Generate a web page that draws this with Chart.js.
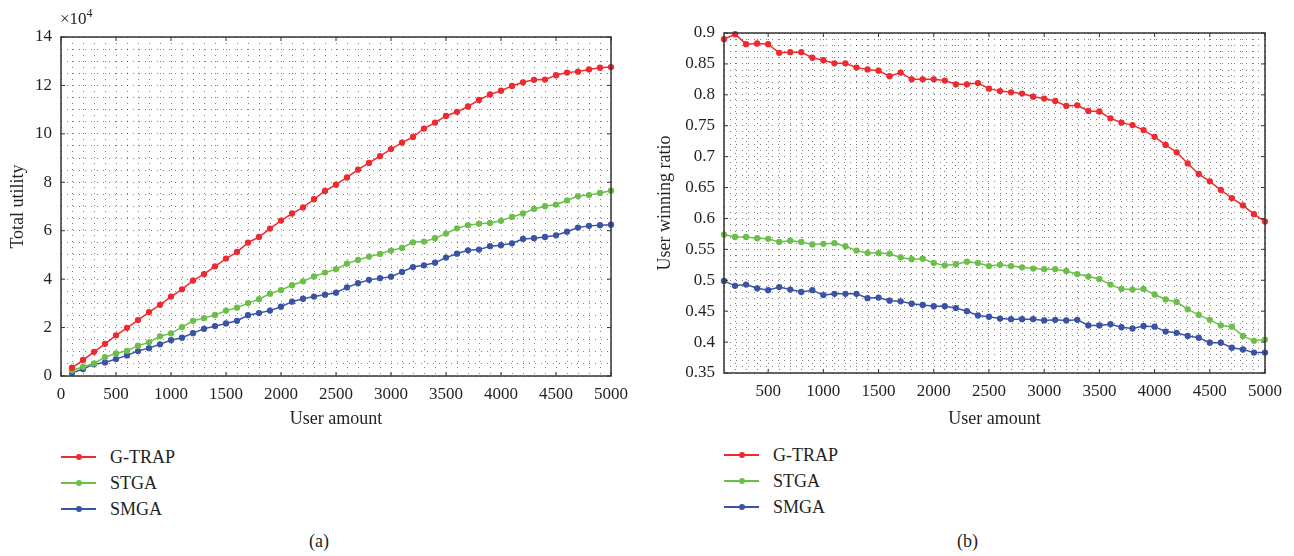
<!DOCTYPE html>
<html lang="en">
  <head>
    <meta charset="UTF-8" />
    <title>Chart</title>
    <style>
      body { margin: 0; background: #fff; width: 1294px; height: 556px; position: relative; overflow: hidden; font-family: "Liberation Serif", serif; color: #231f20; }
      .box { position: absolute; top: 0; width: 647px; height: 440px; }
      .expo { position: absolute; left: 60px; top: 6px; font-size: 17px; }
      .expo sup { font-size: 12px; }
      .legend { position: absolute; font-size: 18px; }
      .legend-item { display: flex; align-items: center; height: 26px; }
      .legend-line { position: relative; width: 35px; height: 2px; margin-right: 14px; }
      .legend-line span { position: absolute; left: 15px; top: -2px; width: 6px; height: 6px; border-radius: 50%; }
      .caption { position: absolute; top: 531px; font-size: 18px; }
    </style>
  </head>
  <body>
    <div class="box" style="left: 0"><canvas id="utility" width="647" height="440"></canvas></div>
    <div class="box" style="left: 647px"><canvas id="ratio" width="647" height="440"></canvas></div>
    <div class="expo">×10<sup>4</sup></div>
    <div class="legend" id="legendA" style="left: 61px; top: 444px"></div>
    <div class="legend" id="legendB" style="left: 724px; top: 442px"></div>
    <div class="caption" style="left: 309px">(a)</div>
    <div class="caption" style="left: 957px">(b)</div>

    <script src="https://cdn.jsdelivr.net/npm/chart.js"></script>
    <script>
      const userAmount = [100, 200, 300, 400, 500, 600, 700, 800, 900, 1000,
        1100, 1200, 1300, 1400, 1500, 1600, 1700, 1800, 1900, 2000,
        2100, 2200, 2300, 2400, 2500, 2600, 2700, 2800, 2900, 3000,
        3100, 3200, 3300, 3400, 3500, 3600, 3700, 3800, 3900, 4000,
        4100, 4200, 4300, 4400, 4500, 4600, 4700, 4800, 4900, 5000];

      // total utility, in units of 10^4
      const utilGTRAP = [0.34, 0.66, 1.0, 1.33, 1.68, 1.99, 2.31, 2.64, 2.94, 3.28,
        3.58, 3.94, 4.21, 4.53, 4.85, 5.12, 5.51, 5.74, 6.09, 6.42,
        6.71, 6.96, 7.30, 7.64, 7.90, 8.20, 8.52, 8.80, 9.08, 9.37,
        9.64, 9.87, 10.22, 10.46, 10.74, 10.91, 11.13, 11.40, 11.63, 11.78,
        11.98, 12.13, 12.23, 12.24, 12.42, 12.53, 12.57, 12.66, 12.73, 12.76];
      const utilSTGA = [0.23, 0.38, 0.52, 0.78, 0.93, 1.04, 1.25, 1.39, 1.64, 1.76,
        2.02, 2.28, 2.39, 2.52, 2.70, 2.82, 3.01, 3.17, 3.40, 3.55,
        3.75, 3.91, 4.11, 4.27, 4.41, 4.64, 4.79, 4.93, 5.04, 5.18,
        5.29, 5.52, 5.55, 5.69, 5.88, 6.10, 6.23, 6.29, 6.32, 6.41,
        6.57, 6.71, 6.90, 7.01, 7.08, 7.25, 7.43, 7.47, 7.56, 7.65];
      const utilSMGA = [0.13, 0.29, 0.49, 0.56, 0.70, 0.85, 1.03, 1.15, 1.31, 1.48,
        1.58, 1.77, 1.95, 2.06, 2.17, 2.28, 2.51, 2.60, 2.70, 2.86,
        3.07, 3.19, 3.28, 3.36, 3.44, 3.66, 3.83, 3.97, 4.04, 4.10,
        4.30, 4.50, 4.57, 4.68, 4.89, 5.05, 5.19, 5.22, 5.36, 5.40,
        5.48, 5.66, 5.69, 5.74, 5.81, 5.96, 6.13, 6.20, 6.23, 6.25];

      const ratioGTRAP = [0.890, 0.898, 0.882, 0.883, 0.882, 0.868, 0.869, 0.869, 0.860, 0.856,
        0.851, 0.851, 0.844, 0.841, 0.839, 0.830, 0.836, 0.825, 0.825, 0.825,
        0.823, 0.817, 0.817, 0.819, 0.810, 0.806, 0.804, 0.802, 0.797, 0.794,
        0.790, 0.782, 0.783, 0.774, 0.773, 0.762, 0.755, 0.751, 0.743, 0.732,
        0.719, 0.707, 0.689, 0.672, 0.660, 0.646, 0.633, 0.621, 0.607, 0.595];
      const ratioSTGA = [0.574, 0.570, 0.570, 0.568, 0.567, 0.562, 0.564, 0.562, 0.558, 0.559,
        0.560, 0.555, 0.548, 0.544, 0.544, 0.543, 0.537, 0.534, 0.535, 0.528,
        0.524, 0.526, 0.530, 0.528, 0.523, 0.525, 0.523, 0.521, 0.519, 0.518,
        0.518, 0.515, 0.510, 0.506, 0.502, 0.493, 0.486, 0.485, 0.486, 0.477,
        0.469, 0.465, 0.453, 0.444, 0.436, 0.427, 0.425, 0.410, 0.402, 0.404];
      const ratioSMGA = [0.499, 0.491, 0.493, 0.487, 0.484, 0.489, 0.485, 0.481, 0.484, 0.476,
        0.478, 0.478, 0.478, 0.471, 0.472, 0.467, 0.466, 0.462, 0.460, 0.458,
        0.458, 0.455, 0.450, 0.443, 0.441, 0.438, 0.437, 0.437, 0.437, 0.435,
        0.436, 0.435, 0.436, 0.427, 0.427, 0.429, 0.424, 0.422, 0.426, 0.425,
        0.417, 0.415, 0.410, 0.407, 0.399, 0.399, 0.391, 0.388, 0.383, 0.383];

      const seriesNames = ["G-TRAP", "STGA", "SMGA"];
      const seriesColors = ["#ee2a30", "#6bbf4a", "#3a53a5"];

      const FONT = "'Liberation Serif', serif";
      const tickFont = { family: FONT, size: 17 };
      const titleFont = { family: FONT, size: 18 };

      // frame around the plot, with small inward ticks at labelled values
      const framePlugin = {
        id: "frame",
        afterDraw(chart) {
          const { ctx, chartArea: a, scales } = chart;
          ctx.save();
          ctx.strokeStyle = "#333";
          ctx.lineWidth = 1.5;
          ctx.strokeRect(a.left, a.top, a.right - a.left, a.bottom - a.top);
          ctx.lineWidth = 1;
          scales.x.ticks.forEach((t) => {
            if (!chart.options.scales.x.ticks.callback(t.value)) return;
            const px = scales.x.getPixelForValue(t.value);
            ctx.beginPath();
            ctx.moveTo(px, a.bottom); ctx.lineTo(px, a.bottom - 4);
            ctx.moveTo(px, a.top); ctx.lineTo(px, a.top + 4);
            ctx.stroke();
          });
          scales.y.ticks.forEach((t) => {
            if (!chart.options.scales.y.ticks.callback(t.value)) return;
            const py = scales.y.getPixelForValue(t.value);
            ctx.beginPath();
            ctx.moveTo(a.left, py); ctx.lineTo(a.left + 4, py);
            ctx.moveTo(a.right, py); ctx.lineTo(a.right - 4, py);
            ctx.stroke();
          });
          ctx.restore();
        },
      };

      const makeChart = (id, values, opts) => {
        new Chart(document.getElementById(id), {
          type: "line",
          data: {
            labels: userAmount,
            datasets: values.map((v, i) => ({
              label: seriesNames[i],
              data: userAmount.map((x, j) => ({ x: x, y: v[j] })),
              borderColor: seriesColors[i],
              backgroundColor: seriesColors[i],
              borderWidth: 1.5,
              pointRadius: 2.4,
              pointHoverRadius: 2.4,
              tension: 0,
              clip: false,
            })),
          },
          options: {
            responsive: false,
            animation: false,
            events: [],
            layout: { padding: opts.padding },
            plugins: { legend: { display: false }, tooltip: { enabled: false } },
            scales: {
              x: {
                type: "linear",
                min: opts.xMin,
                max: 5000,
                afterFit: (s) => { s.height = opts.xHeight; },
                border: { display: false, dash: [1, 5] },
                grid: { color: "rgba(0,0,0,0.5)", lineWidth: 1, drawTicks: false },
                ticks: {
                  stepSize: 100,
                  autoSkip: false,
                  maxRotation: 0,
                  padding: 8,
                  color: "#231f20",
                  font: tickFont,
                  callback: (v) => (Math.round(v) % 500 === 0 ? String(Math.round(v)) : ""),
                },
                title: { display: true, text: "User amount", color: "#231f20", font: titleFont, padding: { top: 4, bottom: 10 } },
              },
              y: {
                min: opts.yMin,
                max: opts.yMax,
                afterFit: (s) => { s.width = opts.yWidth; },
                border: { display: false, dash: [1, 5] },
                grid: { color: "rgba(0,0,0,0.5)", lineWidth: 1, drawTicks: false },
                ticks: {
                  stepSize: opts.yStep,
                  autoSkip: false,
                  padding: 9,
                  color: "#231f20",
                  font: tickFont,
                  callback: opts.yLabel,
                },
                title: { display: true, text: opts.yTitle, color: "#231f20", font: titleFont, padding: { top: 7, bottom: 0 } },
              },
            },
          },
          plugins: [framePlugin],
        });
      };

      makeChart("utility", [utilGTRAP, utilSTGA, utilSMGA], {
        xMin: 0,
        yMin: 0,
        yMax: 14,
        yStep: 0.5,
        yWidth: 61,
        xHeight: 64,
        padding: { top: 37, right: 36, left: 0, bottom: 0 },
        yTitle: "Total utility",
        yLabel: (v) => (Math.abs(v - Math.round(v)) < 1e-6 && Math.round(v) % 2 === 0 ? String(Math.round(v)) : ""),
      });

      makeChart("ratio", [ratioGTRAP, ratioSTGA, ratioSMGA], {
        xMin: 100,
        yMin: 0.35,
        yMax: 0.9,
        yStep: 0.01,
        yWidth: 77,
        xHeight: 67,
        padding: { top: 33, right: 29, left: 0, bottom: 0 },
        yTitle: "User winning ratio",
        yLabel: (v) => {
          const h = Math.round(v * 100);
          return h % 5 === 0 ? String(h / 100) : "";
        },
      });

      const buildLegend = (el) => {
        seriesNames.forEach((name, i) => {
          const item = document.createElement("div");
          item.className = "legend-item";
          item.innerHTML =
            '<div class="legend-line" style="background:' + seriesColors[i] + '"><span style="background:' +
            seriesColors[i] + '"></span></div>' + name;
          el.appendChild(item);
        });
      };
      buildLegend(document.getElementById("legendA"));
      buildLegend(document.getElementById("legendB"));
    </script>
  </body>
</html>
